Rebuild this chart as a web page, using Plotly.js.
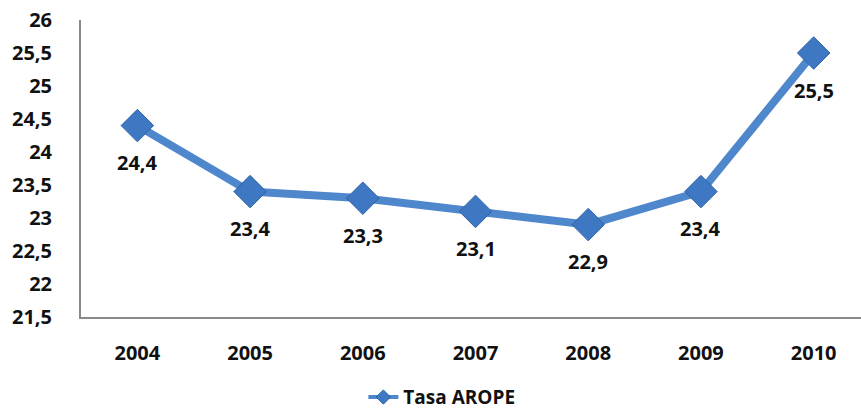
<!DOCTYPE html>
<html><head><meta charset="utf-8">
<script src="https://cdn.plot.ly/plotly-3.0.1.min.js"></script>
<style>html,body{margin:0;padding:0;background:#fff}#chart{width:861px;height:412px}</style>
</head><body><div id="chart"></div>
<script>
const years = ['2004','2005','2006','2007','2008','2009','2010'];
const tasaArope = [24.4, 23.4, 23.3, 23.1, 22.9, 23.4, 25.5];
const seriesName = 'Tasa AROPE';

const fontFam = '"Open Sans", "DejaVu Sans", sans-serif';
const txtFont = (s) => ({family: fontFam, size: s, color: '#111', weight: 'bold'});
const trace = {
  x: years, y: tasaArope, type: 'scatter', mode: 'lines+markers', name: seriesName,
  line: {color: '#4f87cc', width: 8},
  marker: {symbol: 'diamond', size: 25, color: '#3f78c2', line: {color: '#2f62a6', width: 1}},
  showlegend: false, hoverinfo: 'skip'
};
const legendTrace = {
  x: [null], y: [null], type: 'scatter', mode: 'lines+markers', name: seriesName,
  line: {color: '#4f87cc', width: 4},
  marker: {symbol: 'diamond', size: 11, color: '#3f78c2', line: {color: '#2f62a6', width: 1}},
  showlegend: true, hoverinfo: 'skip'
};
const annotations = years.map((yr, i) => ({
  x: i, y: tasaArope[i], xref: 'x', yref: 'y',
  text: String(tasaArope[i]).replace('.', ','), showarrow: false, yshift: -37,
  font: txtFont(20)
}));
const layout = {
  width: 861, height: 412,
  margin: {l: 81, r: 0, t: 20, b: 95, autoexpand: false},
  paper_bgcolor: '#ffffff', plot_bgcolor: '#ffffff',
  separators: ',.',
  showlegend: true,
  legend: {orientation: 'h', x: 0.362, xanchor: 'left', y: -0.27, yanchor: 'middle',
    font: txtFont(19)},
  xaxis: {type: 'category', range: [-0.5, 6.42], showgrid: false, zeroline: false,
    showline: true, linecolor: '#8a8a8a', linewidth: 2, ticks: '', ticklabelstandoff: 17,
    tickfont: txtFont(20), automargin: false},
  yaxis: {range: [21.5, 26], dtick: 0.5, tick0: 21.5, showgrid: false, zeroline: false,
    showline: true, linecolor: '#8a8a8a', linewidth: 2, ticks: '', ticklabelstandoff: 23,
    tickfont: txtFont(20), automargin: false},
  annotations: annotations
};
Plotly.newPlot('chart', [trace, legendTrace], layout, {displayModeBar: false, staticPlot: true});
</script></body></html>
